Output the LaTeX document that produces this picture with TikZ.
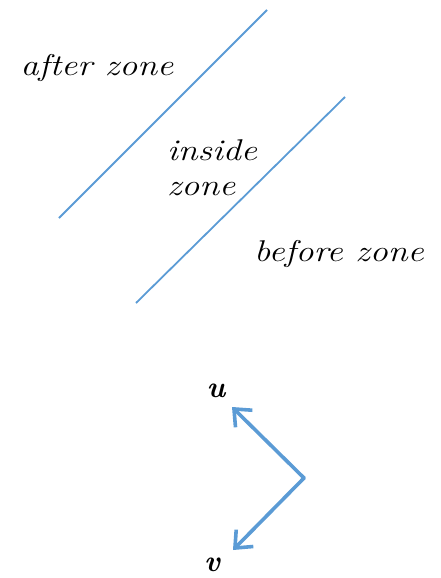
\documentclass[tikz,border=0pt]{standalone}
\usepackage{xcolor}
\usepackage{graphicx}
\usepackage{tikz}
\usetikzlibrary{arrows.meta, positioning}
\definecolor{zoneblue}{RGB}{91,155,213}
\newcommand{\hand}[1]{\scalebox{1.2}[1]{#1}}

\begin{document}
\begin{tikzpicture}[
  x=1pt, y=-1pt,
  border/.style={draw=zoneblue, line width=1.8pt},
  vec/.style={draw=zoneblue, line width=3.6pt, line cap=round,
              -{Straight Barb[length=14pt, width=24pt, line width=3.6pt]}},
  label/.style={font=\fontsize{30}{35}\selectfont\itshape, align=left,
                inner sep=0pt},
  letter/.style={font=\fontsize{30}{30}\selectfont\bfseries\itshape,
                 inner sep=0pt}
]
\useasboundingbox (0,0) rectangle (441,578);

%% Zone borders
\coordinate (L1a) at (59,218);
\coordinate (L1b) at (267,10);
\coordinate (L2a) at (136,303);
\coordinate (L2b) at (345,97);
\draw[border] (L1a) -- (L1b);
\draw[border] (L2a) -- (L2b);

%% Zone labels
\node[label] (after)  at (97,68)  {\hand{after zone}};
\node[label] (inside) at (212,168) {\hand{inside}\\\hand{zone}};
\node[label] (before) at (339,254) {\hand{before zone}};

%% Vectors
\coordinate (corner) at (304,478);
\coordinate (utip) at (232,407);
\coordinate (vtip) at (233,550);
\node[letter] (u) at (216,391) {u};
\node[letter] (v) at (212,565) {v};
\draw[vec] (corner) -- (utip);
\draw[vec] (corner) -- (vtip);
\end{tikzpicture}
\end{document}
